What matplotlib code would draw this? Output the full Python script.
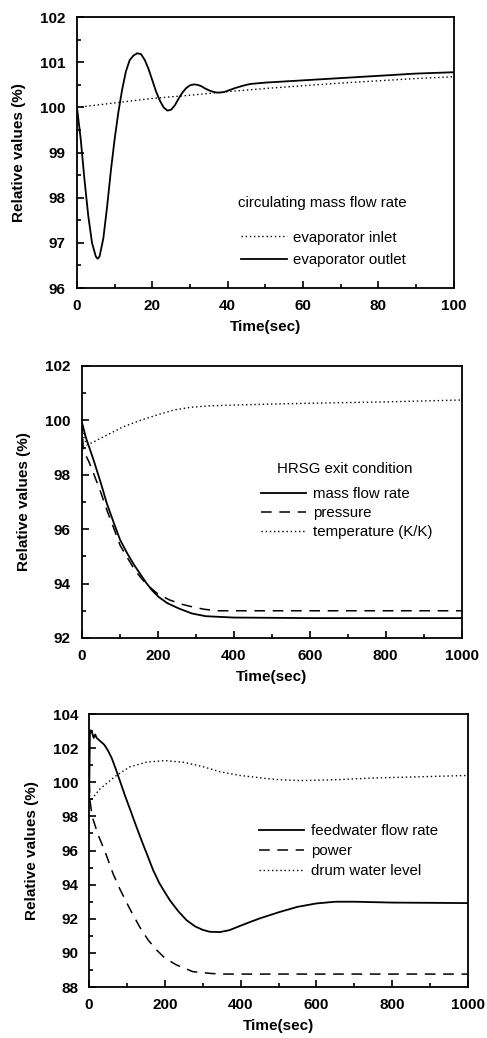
import numpy as np
import matplotlib.pyplot as plt
from matplotlib.ticker import MultipleLocator

plt.rcParams['font.family'] = ['Liberation Sans', 'DejaVu Sans']

# panel 1: circulating mass flow rate
t_inlet = [0, 10, 20, 30, 40, 50, 60, 70, 80, 90, 100]
v_inlet = [100.0, 100.1, 100.2, 100.27, 100.35, 100.42, 100.48, 100.54, 100.59, 100.64, 100.68]
t_outlet = [0, 1, 2, 3, 4, 5, 5.5, 6, 7, 8, 9, 10, 11, 12, 13, 14, 15, 16, 17, 18, 19,
            20, 21, 22, 23, 24, 25, 26, 27, 28, 29, 30, 31, 32, 33, 34, 35, 36, 37, 38,
            39, 40, 42, 44, 46, 50, 60, 70, 80, 90, 100]
v_outlet = [100.0, 99.3, 98.4, 97.6, 97.0, 96.7, 96.65, 96.7, 97.1, 97.8, 98.6, 99.3,
            99.9, 100.4, 100.8, 101.05, 101.15, 101.2, 101.18, 101.05, 100.85, 100.6,
            100.35, 100.15, 100.0, 99.93, 99.95, 100.05, 100.2, 100.33, 100.43, 100.49,
            100.51, 100.5, 100.47, 100.42, 100.38, 100.35, 100.33, 100.33, 100.34, 100.37,
            100.43, 100.48, 100.52, 100.55, 100.6, 100.65, 100.7, 100.75, 100.78]

# panel 2: HRSG exit condition
t_mass = [0, 10, 31, 50, 66, 85, 101, 120, 137, 150, 170, 185, 203, 225, 256, 290, 326,
          400, 600, 1000]
v_mass = [99.95, 99.4, 98.54, 97.7, 96.94, 96.2, 95.6, 95.1, 94.7, 94.43, 94.02, 93.75,
          93.5, 93.28, 93.08, 92.9, 92.8, 92.75, 92.73, 92.73]
t_press = [0, 4, 18, 31, 50, 66, 85, 101, 120, 137, 155, 172, 200, 229, 260, 292, 320,
           353, 400, 1000]
v_press = [100.0, 98.9, 98.5, 98.05, 97.35, 96.7, 96.0, 95.4, 94.95, 94.55, 94.22, 93.95,
           93.62, 93.41, 93.25, 93.14, 93.06, 93.0, 93.0, 93.0]
t_temp = [0, 5, 13, 30, 66, 110, 154, 198, 242, 286, 330, 392, 500, 600, 800, 1000]
v_temp = [100.0, 99.4, 99.1, 99.2, 99.46, 99.77, 100.0, 100.2, 100.38, 100.48, 100.53,
          100.56, 100.6, 100.63, 100.68, 100.75]

# panel 3: feedwater, power, drum level
t_feed = [0, 2, 4, 8, 12, 16, 20, 30, 40, 50, 60, 70, 81, 95, 110, 125, 140, 155, 169,
          185, 200, 213, 235, 257, 280, 300, 318, 345, 370, 389, 420, 450, 503, 550, 600,
          650, 700, 800, 1000]
v_feed = [99.0, 102.8, 103.05, 102.9, 102.6, 102.8, 102.6, 102.4, 102.2, 101.85, 101.4,
          100.8, 100.1, 99.2, 98.3, 97.38, 96.5, 95.65, 94.85, 94.1, 93.55, 93.09, 92.45,
          91.92, 91.55, 91.35, 91.24, 91.22, 91.33, 91.5, 91.77, 92.02, 92.4, 92.7, 92.9,
          93.0, 93.0, 92.95, 92.92]
t_power = [0, 3, 8, 24, 41, 63, 81, 107, 134, 156, 178, 200, 230, 274, 320, 345, 1000]
v_power = [100.0, 98.8, 98.0, 96.9, 96.0, 94.65, 93.75, 92.6, 91.5, 90.75, 90.17, 89.7,
           89.3, 88.9, 88.8, 88.76, 88.76]
t_drum = [0, 3, 10, 28, 50, 72, 107, 151, 200, 250, 300, 345, 398, 468, 503, 560, 650,
          750, 1000]
v_drum = [99.5, 98.9, 99.1, 99.6, 100.0, 100.4, 100.9, 101.18, 101.27, 101.17, 100.92,
          100.62, 100.4, 100.22, 100.15, 100.1, 100.15, 100.25, 100.4]

DOT = (0, (1, 2))
DASH = (0, (7, 5))
LEGFONT = 10.8


def style_axes(ax, xmax, xmaj, xmin, ymin, ymax, ymaj, yminor):
    ax.set_xlim(0, xmax)
    ax.set_ylim(ymin, ymax)
    ax.xaxis.set_major_locator(MultipleLocator(xmaj))
    ax.xaxis.set_minor_locator(MultipleLocator(xmin))
    ax.yaxis.set_major_locator(MultipleLocator(ymaj))
    ax.yaxis.set_minor_locator(MultipleLocator(yminor))
    ax.tick_params(which='both', direction='in', top=False, right=False, width=1.2)
    ax.tick_params(which='major', length=5, pad=8)
    ax.tick_params(which='minor', length=3)
    for lab in ax.get_xticklabels() + ax.get_yticklabels():
        lab.set_fontsize(11)
        lab.set_fontweight('bold')
    for sp in ax.spines.values():
        sp.set_linewidth(1.3)
    ax.set_xlabel('Time(sec)', fontsize=11, fontweight='bold', labelpad=5)
    ax.set_ylabel('Relative values (%)', fontsize=11, fontweight='bold', labelpad=10)


fig = plt.figure(figsize=(4.87, 10.38), dpi=100)

# top panel
ax1 = fig.add_axes([0.158, 0.7225, 0.774, 0.261])
l1, = ax1.plot(t_inlet, v_inlet, color='black', lw=1.0, ls=DOT)
l2, = ax1.plot(t_outlet, v_outlet, color='black', lw=1.3)
style_axes(ax1, 100, 20, 10, 96, 102, 1, 0.5)
ax1.text(0.65, 0.314, 'circulating mass flow rate', transform=ax1.transAxes,
         ha='center', va='center', fontsize=LEGFONT)
ax1.legend([l1, l2], ['evaporator inlet', 'evaporator outlet'], loc='upper left',
           bbox_to_anchor=(0.435, 0.212), frameon=False, fontsize=LEGFONT, borderpad=0,
           borderaxespad=0, handlelength=3.1, handletextpad=0.4, labelspacing=0.55)

# middle panel
ax2 = fig.add_axes([0.168, 0.3854, 0.780, 0.262])
m1, = ax2.plot(t_mass, v_mass, color='black', lw=1.3)
m2, = ax2.plot(t_press, v_press, color='black', lw=1.1, ls=DASH)
m3, = ax2.plot(t_temp, v_temp, color='black', lw=1.0, ls=DOT)
style_axes(ax2, 1000, 200, 100, 92, 102, 2, 1)
ax2.text(0.692, 0.621, 'HRSG exit condition', transform=ax2.transAxes,
         ha='center', va='center', fontsize=LEGFONT)
ax2.legend([m1, m2, m3], ['mass flow rate', 'pressure', 'temperature (K/K)'],
           loc='upper left', bbox_to_anchor=(0.472, 0.555), frameon=False, fontsize=LEGFONT,
           borderpad=0, borderaxespad=0, handlelength=3.0, handletextpad=0.45,
           labelspacing=0.33)

# bottom panel
ax3 = fig.add_axes([0.183, 0.0491, 0.778, 0.263])
f1, = ax3.plot(t_feed, v_feed, color='black', lw=1.3)
f2, = ax3.plot(t_power, v_power, color='black', lw=1.1, ls=DASH)
f3, = ax3.plot(t_drum, v_drum, color='black', lw=1.0, ls=DOT)
style_axes(ax3, 1000, 200, 100, 88, 104, 2, 1)
ax3.legend([f1, f2, f3], ['feedwater flow rate', 'power', 'drum water level'],
           loc='upper left', bbox_to_anchor=(0.449, 0.597), frameon=False, fontsize=LEGFONT,
           borderpad=0, borderaxespad=0, handlelength=3.0, handletextpad=0.45,
           labelspacing=0.4)

fig.savefig('out.png', dpi=100)
